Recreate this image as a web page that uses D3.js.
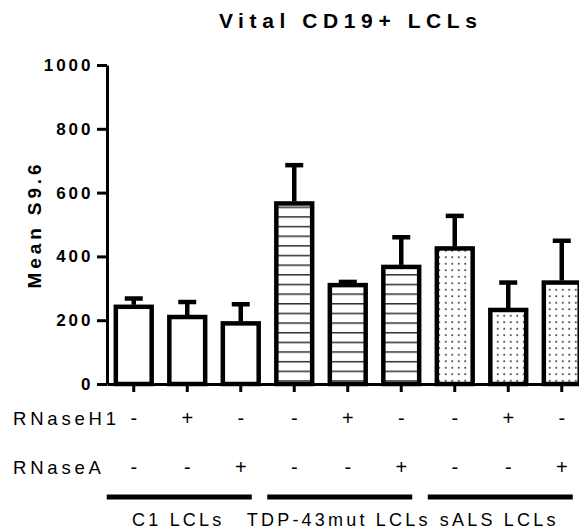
<!DOCTYPE html>
<html>
<head>
<meta charset="utf-8">
<script src="https://cdn.jsdelivr.net/npm/d3@7"></script>
<style>
  body { margin: 0; background: #fff; }
  svg { display: block; font-family: Arial, "Liberation Sans", sans-serif; }
</style>
</head>
<body>
<div id="chart"></div>
<script>
/* data */
var groups = ["C1 LCLs", "TDP-43mut LCLs", "sALS LCLs"];
var rnaseH1 = ["-", "+", "-", "-", "+", "-", "-", "+", "-"];
var rnaseA = ["-", "-", "+", "-", "-", "+", "-", "-", "+"];
var means = [242, 210, 190, 566, 310, 367, 425, 232, 318];
var upper = [268, 257, 250, 686, 320, 460, 527, 318, 449];
var barGroup = [0, 0, 0, 1, 1, 1, 2, 2, 2];
var yTicks = [0, 200, 400, 600, 800, 1000];

var width = 579, height = 531;

var svg = d3.select("#chart")
    .append("svg")
    .attr("width", width)
    .attr("height", height);

/* fill patterns */
var defs = svg.append("defs");
var hl = defs.append("pattern")
    .attr("id", "hlines")
    .attr("patternUnits", "userSpaceOnUse")
    .attr("width", 12).attr("height", 9.65);
hl.append("rect").attr("width", 12).attr("height", 9.65).attr("fill", "#fff");
hl.append("rect").attr("y", 4).attr("width", 12).attr("height", 1.3).attr("fill", "#111");

var dots = defs.append("pattern")
    .attr("id", "dots")
    .attr("patternUnits", "userSpaceOnUse")
    .attr("width", 6.5).attr("height", 6.5);
dots.append("rect").attr("width", 6.5).attr("height", 6.5).attr("fill", "#fff");
dots.append("rect").attr("x", 3).attr("y", 3).attr("width", 1.5).attr("height", 1.5).attr("fill", "#000");

var fills = ["#fff", "url(#hlines)", "url(#dots)"];

/* scales */
var x = d3.scaleBand()
    .domain(d3.range(means.length))
    .range([107, 588.5])
    .paddingInner(0.33)
    .paddingOuter(0.165);

var y = d3.scaleLinear()
    .domain([0, 1000])
    .range([384, 65]);

var cx = function(i) { return x(i) + x.bandwidth() / 2; };

/* bars */
svg.append("g").selectAll("rect")
    .data(means)
    .enter().append("rect")
    .attr("x", function(d, i) { return x(i); })
    .attr("y", function(d) { return y(d); })
    .attr("width", x.bandwidth())
    .attr("height", function(d) { return y(0) - y(d); })
    .attr("fill", function(d, i) { return fills[barGroup[i]]; })
    .attr("stroke", "#000")
    .attr("stroke-width", 4.5);

/* error bars, upper only */
var err = svg.append("g");
err.selectAll("line.stem")
    .data(means)
    .enter().append("line")
    .attr("class", "stem")
    .attr("x1", function(d, i) { return cx(i); })
    .attr("x2", function(d, i) { return cx(i); })
    .attr("y1", function(d) { return y(d) - 2; })
    .attr("y2", function(d, i) { return y(upper[i]); })
    .attr("stroke", "#000")
    .attr("stroke-width", 4.5);
err.selectAll("line.cap")
    .data(upper)
    .enter().append("line")
    .attr("class", "cap")
    .attr("x1", function(d, i) { return cx(i) - 9; })
    .attr("x2", function(d, i) { return cx(i) + 9; })
    .attr("y1", function(d) { return y(d); })
    .attr("y2", function(d) { return y(d); })
    .attr("stroke", "#000")
    .attr("stroke-width", 4.5);

/* x axis */
var xAxis = svg.append("g")
    .attr("transform", "translate(0," + y(0) + ")")
    .call(d3.axisBottom(x).tickSize(8).tickSizeOuter(0).tickFormat(""));
xAxis.select(".domain").attr("stroke-width", 3);
xAxis.selectAll(".tick line").attr("stroke-width", 3);

/* y axis */
var yAxis = svg.append("g")
    .attr("transform", "translate(107,0)")
    .call(d3.axisLeft(y).tickValues(yTicks).tickFormat(d3.format("d"))
        .tickSize(10).tickSizeOuter(0));
yAxis.select(".domain").attr("stroke-width", 3);
yAxis.selectAll(".tick line").attr("stroke-width", 3);
yAxis.selectAll(".tick text")
    .attr("font-family", "Arial, 'Liberation Sans', sans-serif")
    .attr("font-size", 17)
    .attr("font-weight", "bold")
    .attr("letter-spacing", 3)
    .attr("x", -13.5)
    .attr("fill", "#000");

/* y label */
svg.append("text")
    .attr("transform", "translate(41," + (y(500)) + ")rotate(-90)")
    .attr("text-anchor", "middle")
    .attr("font-size", 19)
    .attr("font-weight", "bold")
    .attr("letter-spacing", 3.9)
    .text("Mean S9.6");

/* title */
svg.append("text")
    .attr("x", (107 + 588.5) / 2 + 3)
    .attr("y", 28)
    .attr("text-anchor", "middle")
    .attr("font-size", 21)
    .attr("font-weight", "bold")
    .attr("letter-spacing", 5.6)
    .text("Vital CD19+ LCLs");

/* treatment rows */
var rows = [["RNaseH1", rnaseH1, 425], ["RNaseA", rnaseA, 474]];
rows.forEach(function(r) {
    svg.append("text")
        .attr("x", 13)
        .attr("y", r[2])
        .attr("font-size", 18.5)
        .attr("letter-spacing", 3.8)
        .text(r[0]);
    svg.append("g").selectAll("text")
        .data(r[1])
        .enter().append("text")
        .attr("x", function(d, i) { return cx(i); })
        .attr("y", r[2])
        .attr("text-anchor", "middle")
        .attr("font-size", 20)
        .text(function(d) { return d; });
});

/* group lines and labels */
var grp = svg.append("g");
groups.forEach(function(g, k) {
    var first = cx(k * 3), last = cx(k * 3 + 2);
    grp.append("line")
        .attr("x1", first - 27)
        .attr("x2", last + 11)
        .attr("y1", 497).attr("y2", 497)
        .attr("stroke", "#000")
        .attr("stroke-width", 5);
    grp.append("text")
        .attr("x", (first + last) / 2 - 9)
        .attr("y", 526)
        .attr("text-anchor", "middle")
        .attr("font-size", 18)
        .attr("letter-spacing", 3.2)
        .text(g);
});
</script>
</body>
</html>
